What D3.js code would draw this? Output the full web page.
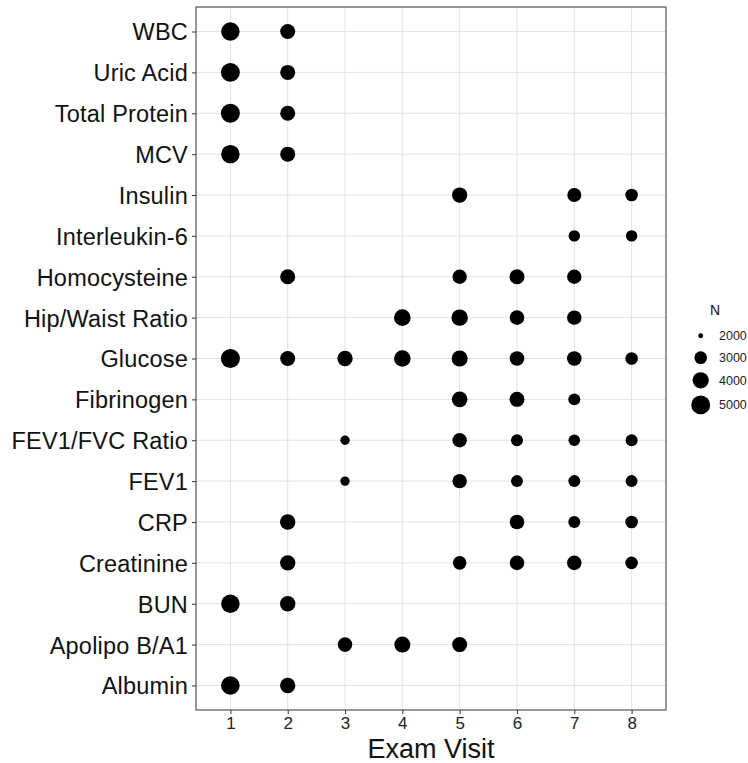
<!DOCTYPE html>
<html>
<head>
<meta charset="utf-8">
<script src="https://cdn.jsdelivr.net/npm/d3@7"></script>
<style>
  html, body { margin: 0; padding: 0; background: #fff; }
  svg { display: block; font-family: "Liberation Sans", Arial, Helvetica, sans-serif; }
</style>
</head>
<body>
<svg id="chart" width="748" height="763"></svg>
<script>
// Participants with each measurement at each exam visit (null = not measured)
const visits = [1, 2, 3, 4, 5, 6, 7, 8];

const measures = [
  "WBC", "Uric Acid", "Total Protein", "MCV", "Insulin", "Interleukin-6",
  "Homocysteine", "Hip/Waist Ratio", "Glucose", "Fibrinogen", "FEV1/FVC Ratio",
  "FEV1", "CRP", "Creatinine", "BUN", "Apolipo B/A1", "Albumin"
];

const wbc          = [4800, 3620, null, null, null, null, null, null];
const uricAcid     = [5000, 3620, null, null, null, null, null, null];
const totalProtein = [5000, 3620, null, null, null, null, null, null];
const mcv          = [4800, 3620, null, null, null, null, null, null];
const insulin      = [null, null, null, null, 3700, null, 3340, 2985];
const interleukin6 = [null, null, null, null, null, null, 2730, 2730];
const homocysteine = [null, 3620, null, null, 3450, 3620, 3450, null];
const hipWaist     = [null, null, null, 4130, 4050, 3500, 3450, null];
const glucose      = [5050, 3620, 3740, 4130, 3930, 3500, 3500, 2985];
const fibrinogen   = [null, null, null, null, 3800, 3620, 2850, null];
const fev1Fvc      = [null, null, 2380, null, 3450, 2850, 2770, 2850];
const fev1         = [null, null, 2380, null, 3450, 2850, 2850, 2850];
const crp          = [null, 3740, null, null, null, 3500, 2850, 2985];
const creatinine   = [null, 3740, null, null, 3230, 3500, 3500, 2985];
const bun          = [4860, 3740, null, null, null, null, null, null];
const apolipo      = [null, null, 3500, 3930, 3620, null, null, null];
const albumin      = [4860, 3740, null, null, null, null, null, null];

const countsByMeasure = [
  wbc, uricAcid, totalProtein, mcv, insulin, interleukin6, homocysteine,
  hipWaist, glucose, fibrinogen, fev1Fvc, fev1, crp, creatinine, bun,
  apolipo, albumin
];

const legendBreaks = [2000, 3000, 4000, 5000];

// ---- layout ----
const panel = { left: 196, right: 666, top: 7, bottom: 710 };
const svg = d3.select("#chart");

const x = d3.scaleLinear().domain([0.4, 8.6]).range([panel.left, panel.right]);
const y = d3.scalePoint().domain(measures).range([panel.top, panel.bottom]).padding(0.6);

// point area grows with the square root of N above the size-scale floor
const sizeDomain = [1990, 5100];
const toUnit = d3.scaleLinear().domain(sizeDomain).range([0, 1]).clamp(true);
const radius = d3.scaleLinear().domain([0, 1]).range([2.0, 9.6]);
const r = n => radius(Math.sqrt(toUnit(n)));

const points = [];
measures.forEach((m, i) => {
  countsByMeasure[i].forEach((n, j) => {
    if (n != null) points.push({ measure: m, visit: visits[j], n });
  });
});

// panel background
svg.append("rect")
  .attr("x", panel.left).attr("y", panel.top)
  .attr("width", panel.right - panel.left).attr("height", panel.bottom - panel.top)
  .attr("fill", "#fff");

// grid
const grid = svg.append("g").attr("stroke", "#e2e2e2").attr("stroke-width", 1);
grid.selectAll("line.v").data(visits).join("line")
  .attr("x1", d => x(d)).attr("x2", d => x(d))
  .attr("y1", panel.top).attr("y2", panel.bottom);
grid.selectAll("line.h").data(measures).join("line")
  .attr("x1", panel.left).attr("x2", panel.right)
  .attr("y1", d => y(d)).attr("y2", d => y(d));

// points
svg.append("g").selectAll("circle").data(points).join("circle")
  .attr("cx", d => x(d.visit))
  .attr("cy", d => y(d.measure))
  .attr("r", d => r(d.n))
  .attr("fill", "#000");

// panel border
svg.append("rect")
  .attr("x", panel.left).attr("y", panel.top)
  .attr("width", panel.right - panel.left).attr("height", panel.bottom - panel.top)
  .attr("fill", "none").attr("stroke", "#333").attr("stroke-width", 1);

// y axis
const yAxis = svg.append("g")
  .attr("transform", `translate(${panel.left},0)`)
  .call(d3.axisLeft(y).tickSize(4).tickPadding(4));
yAxis.select(".domain").remove();
yAxis.selectAll(".tick line").attr("stroke", "#333");
yAxis.selectAll(".tick text")
  .attr("fill", "#111").attr("font-size", 23.5).attr("letter-spacing", 0.2).attr("dy", "0.36em");
yAxis.attr("font-family", null);

// x axis
const xAxis = svg.append("g")
  .attr("transform", `translate(0,${panel.bottom})`)
  .call(d3.axisBottom(x).tickValues(visits).tickFormat(d3.format("d")).tickSize(4).tickPadding(3));
xAxis.select(".domain").remove();
xAxis.selectAll(".tick line").attr("stroke", "#333");
xAxis.selectAll(".tick text")
  .attr("fill", "#222").attr("font-size", 17).attr("dy", "0.71em");
xAxis.attr("font-family", null);

// x title
svg.append("text")
  .attr("x", (panel.left + panel.right) / 2).attr("y", 757.5)
  .attr("text-anchor", "middle").attr("font-size", 27).attr("fill", "#111")
  .text("Exam Visit");

// size legend
const legend = svg.append("g");
legend.append("text")
  .attr("x", 715).attr("y", 315)
  .attr("text-anchor", "middle").attr("font-size", 14).attr("fill", "#111")
  .text("N");

let keyY = 324.7;
const keys = legendBreaks.map(b => {
  const h = Math.max(22, 2 * r(b) + 7);
  const k = { b, cy: keyY + h / 2 };
  keyY += h;
  return k;
});
legend.selectAll("circle").data(keys).join("circle")
  .attr("cx", 700.7).attr("cy", d => d.cy).attr("r", d => r(d.b)).attr("fill", "#000");
legend.selectAll("text.lab").data(keys).join("text")
  .attr("class", "lab")
  .attr("x", 719).attr("y", d => d.cy).attr("dy", "0.36em")
  .attr("font-size", 12.5).attr("fill", "#222")
  .text(d => d.b);
</script>
</body>
</html>
